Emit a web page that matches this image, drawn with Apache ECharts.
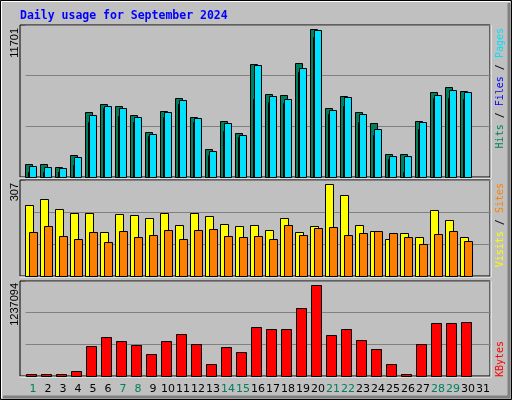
<!DOCTYPE html>
<html><head><meta charset="utf-8">
<script src="https://cdn.jsdelivr.net/npm/echarts@6/dist/echarts.min.js"></script>
<style>html,body{margin:0;padding:0;background:#c0c0c0}#c{width:512px;height:400px}</style>
</head><body><div id="c"></div>
<script>
var days = ['1','2','3','4','5','6','7','8','9','10','11','12','13','14','15','16','17','18','19','20','21','22','23','24','25','26','27','28','29','30','31'];
var weekend = ['1','7','8','14','15','21','22','28','29'];
var hits  = [1000,1000,770,1690,5000,5620,5460,4770,3460,5080,6080,4620,2150,4310,3390,8700,6390,6310,8780,11390,5310,6230,5000,4160,1770,1770,4310,6540,6930,6620,null];
var pages = [850,770,690,1540,4770,5460,5310,4620,3310,5000,5930,4540,2000,4160,3230,8620,6230,6000,8390,11320,5160,6160,4850,3700,1620,1620,4230,6310,6700,6540,null];
var files = [385,385,350,920,4230,5310,4700,4230,3150,4620,5620,4230,1690,3540,3080,6000,5770,5700,8080,10780,4850,5460,4230,3230,1390,385,3700,6080,6080,6000,null];
var visits = [228,246,214,201,201,141,198,195,185,201,163,201,192,166,160,163,147,185,141,160,294,259,163,144,118,138,125,211,179,125,null];
var sites  = [141,160,128,118,141,109,144,125,131,147,118,147,150,128,125,128,118,163,131,153,157,131,138,144,138,125,102,134,144,112,null];
var kbytes = [20000,20000,20000,69000,386000,503000,451000,408000,291000,451000,551000,421000,161000,373000,317000,642000,616000,616000,890000,1189000,538000,616000,473000,356000,161000,30000,421000,694000,694000,708000,null];
var maxLabels = [11701, 307, 1237094];

function rows(arrs){ return days.map(function(d,i){ return [i].concat(arrs.map(function(a){return a[i];})); }); }

// bar pieces: [valueDim, startOffset, endOffset (in 15px slot units), color]
function maker(pieces){
  return function(params, api){
    var idx = api.value(0);
    var base = api.coord([idx, 0]);
    var w = api.size([1, 0])[0];
    var s = w / 15;
    var x0 = base[0] - w / 2;
    var children = [];
    pieces.forEach(function(p){
      var v = api.value(p[0]);
      if (v == null || isNaN(v)) return;
      var top = api.coord([idx, v])[1];
      children.push({type:'rect', shape:{x: Math.round(x0 + p[1]*s)+0.5, y: Math.round(top)+0.5, width: Math.round((p[2]-p[1])*s), height: Math.max(0, Math.round(base[1]-top))},
        style:{fill:p[3], stroke:'#000', lineWidth:1}});
    });
    return {type:'group', children: children};
  };
}

var grids = [
  {left:25.5, width:465, top:25, height:152},
  {left:25.5, width:465, top:180, height:96},
  {left:25.5, width:465, top:281, height:95}
];
var frames = [
  {left:20, width:470, top:25, height:152, show:true, borderColor:'#000', borderWidth:1, backgroundColor:'transparent'},
  {left:20, width:470, top:180, height:96, show:true, borderColor:'#000', borderWidth:1, backgroundColor:'transparent'},
  {left:20, width:470, top:281, height:95, show:true, borderColor:'#000', borderWidth:1, backgroundColor:'transparent'}
];
var xAxes = [], yAxes = [];
grids.forEach(function(g, i){
  xAxes.push({type:'category', gridIndex:i, data:days, boundaryGap:true,
    axisLine:{show:false}, axisTick:{show:false},
    axisLabel:{show: i===2, margin:8, fontSize:11, fontFamily:'DejaVu Sans',
      color:function(v){ return weekend.indexOf(v)>=0 ? '#00805c' : '#000'; }, interval:0}});
  yAxes.push({type:'value', gridIndex:i, min:0, max:maxLabels[i], interval:maxLabels[i]/3,
    axisLabel:{show:false}, axisLine:{show:false}, axisTick:{show:false},
    splitLine:{show:true, lineStyle:{color:'#808080', width:1}}});
});
frames.forEach(function(g, i){
  xAxes.push({type:'category', gridIndex:3+i, data:days, show:false});
  yAxes.push({type:'value', gridIndex:3+i, show:false, splitLine:{show:false}});
});

var mono = '"DejaVu Sans Mono", monospace';
function vtext(x, y, rich, parts){
  return {type:'text', x:x, y:y, rotation:Math.PI/2,
    style:{text: parts, rich: rich, align:'right', verticalAlign:'middle', font:'9px '+mono}};
}
var richR = {c:{fill:'#00e0ff',font:'10px '+mono}, b:{fill:'#0000ff',font:'10px '+mono}, g:{fill:'#00805c',font:'10px '+mono},
  s:{fill:'#000',font:'10px '+mono}, o:{fill:'#ff8000',font:'10px '+mono}, y:{fill:'#ffff00',font:'10px '+mono}, r:{fill:'#ff0000',font:'10px '+mono}};

var option = {
  animation:false,
  backgroundColor:'#c0c0c0',
  grid: grids.concat(frames),
  xAxis: xAxes, yAxis: yAxes,
  graphic:[
    {type:'rect', shape:{x:0.5,y:0.5,width:511,height:399}, style:{fill:'none', stroke:'#000', lineWidth:1}},
    {type:'polyline', shape:{points:[[1.5,398],[1.5,1.5],[510,1.5]]}, style:{fill:'none',stroke:'#fff',lineWidth:1}},
    {type:'polyline', shape:{points:[[509,3],[509,397],[3,397]]}, style:{fill:'none',stroke:'#808080',lineWidth:3}},
    {type:'line', shape:{x1:20,y1:178,x2:491,y2:178}, style:{stroke:'#fff',lineWidth:1}},
    {type:'line', shape:{x1:491,y1:25,x2:491,y2:178}, style:{stroke:'#fff',lineWidth:1}},
    {type:'line', shape:{x1:20,y1:277,x2:491,y2:277}, style:{stroke:'#fff',lineWidth:1}},
    {type:'line', shape:{x1:491,y1:180,x2:491,y2:277}, style:{stroke:'#fff',lineWidth:1}},
    {type:'line', shape:{x1:20,y1:377,x2:491,y2:377}, style:{stroke:'#fff',lineWidth:1}},
    {type:'line', shape:{x1:491,y1:281,x2:491,y2:377}, style:{stroke:'#fff',lineWidth:1}},
    {type:'text', x:20, y:16, style:{text:'Daily usage for September 2024', fill:'#0000ff', font:'bold 11.5px '+mono, verticalAlign:'middle'}},
    {type:'text', x:15, y:28, rotation:Math.PI/2, style:{text:String(maxLabels[0]), fill:'#000', font:'11px "Liberation Sans"', align:'right', verticalAlign:'middle'}},
    {type:'text', x:15, y:183, rotation:Math.PI/2, style:{text:String(maxLabels[1]), fill:'#000', font:'11px "Liberation Sans"', align:'right', verticalAlign:'middle'}},
    {type:'text', x:15, y:283, rotation:Math.PI/2, style:{text:String(maxLabels[2]), fill:'#000', font:'11px "Liberation Sans"', align:'right', verticalAlign:'middle'}},
    vtext(500, 28, richR, '{g|Hits}{s| / }{b|Files}{s| / }{c|Pages}'),
    vtext(500, 183, richR, '{y|Visits}{s| / }{o|Sites}'),
    vtext(500, 341, richR, '{r|KBytes}')
  ],
  series:[
    {type:'custom', xAxisIndex:0, yAxisIndex:0, data: rows([hits, pages, files]),
      renderItem: maker([[1,-0.2,7.2,'#00805c'],[3,2.2,4.2,'#0000ff'],[2,3.8,11.2,'#00e0ff']])},
    {type:'custom', xAxisIndex:1, yAxisIndex:1, data: rows([visits, sites]),
      renderItem: maker([[1,-0.2,8.2,'#ffff00'],[2,3.2,11.2,'#ff8000']])},
    {type:'custom', xAxisIndex:2, yAxisIndex:2, data: rows([kbytes]),
      renderItem: maker([[1,0.8,11.2,'#ff0000']])}
  ]
};
echarts.init(document.getElementById('c')).setOption(option);
</script></body></html>
